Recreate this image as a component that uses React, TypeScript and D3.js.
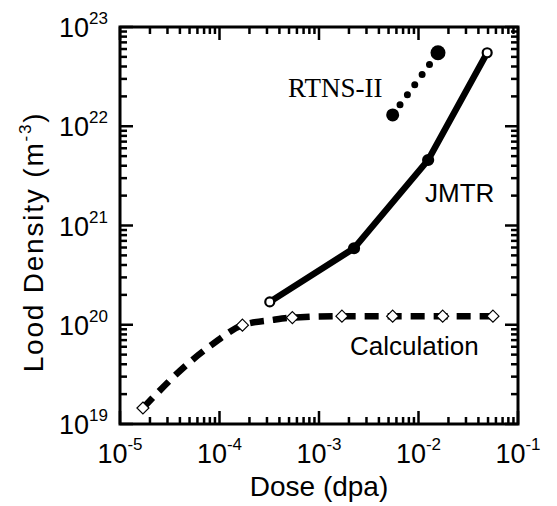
import React, { useEffect, useRef } from "react";
import * as d3 from "d3";

// calculation curve (dashed), diamonds on the half-decade points
const calcDose = [1.7e-5, 5.3e-5, 8.4e-5, 1.7e-4, 3.45e-4, 5.4e-4, 1.7e-3, 5.5e-3, 1.75e-2, 5.6e-2];
const calcDensity = [1.45e19, 4.4e19, 6.3e19, 9.9e19, 1.12e20, 1.18e20, 1.22e20, 1.22e20, 1.22e20, 1.22e20];
const calcMarked = [true, false, false, true, false, true, true, true, true, true];

const jmtrDose = [3.2e-4, 2.25e-3, 1.25e-2, 4.9e-2];
const jmtrDensity = [1.7e20, 5.9e20, 4.57e21, 5.5e22];

const rtnsDose = [5.5e-3, 1.57e-2];
const rtnsDensity = [1.3e22, 5.5e22];

const xTickExp = [-5, -4, -3, -2, -1];
const yTickExp = [19, 20, 21, 22, 23];

const App = () => {
  const svgRef = useRef<SVGSVGElement>(null);

  useEffect(() => {
    const svg = d3.select(svgRef.current);
    svg.selectAll("*").remove();

    const width = 557;
    const height = 506;
    const left = 120, right = 518, top = 27, bottom = 424;
    const sans = "'Liberation Sans', Arial, sans-serif";

    const x = d3.scaleLog().domain([1e-5, 1e-1]).range([left, right]);
    const y = d3.scaleLog().domain([1e19, 1e23]).range([bottom, top]);

    svg.attr("width", width).attr("height", height);
    svg.append("rect").attr("width", width).attr("height", height).attr("fill", "white");

    // ticks on all four sides, pointing inward
    const isMajor = (v: number) => Math.abs(Math.log10(v) - Math.round(Math.log10(v))) < 1e-6;
    const tk = svg.append("g").attr("stroke", "black").attr("stroke-width", 2.5);
    x.ticks().forEach(v => {
      const len = isMajor(v) ? 13 : 7;
      tk.append("line").attr("x1", x(v)).attr("x2", x(v)).attr("y1", bottom).attr("y2", bottom - len);
      tk.append("line").attr("x1", x(v)).attr("x2", x(v)).attr("y1", top).attr("y2", top + len);
    });
    y.ticks().forEach(v => {
      const len = isMajor(v) ? 13 : 7;
      tk.append("line").attr("y1", y(v)).attr("y2", y(v)).attr("x1", left).attr("x2", left + len);
      tk.append("line").attr("y1", y(v)).attr("y2", y(v)).attr("x1", right).attr("x2", right - len);
    });

    // frame
    svg.append("rect")
      .attr("x", left).attr("y", top)
      .attr("width", right - left).attr("height", bottom - top)
      .attr("fill", "none").attr("stroke", "black").attr("stroke-width", 3);

    // tick labels
    xTickExp.forEach(e => {
      const t = svg.append("text")
        .attr("x", x(Math.pow(10, e)))
        .attr("y", 463)
        .attr("text-anchor", "middle")
        .style("font-family", sans)
        .style("font-size", "27px");
      t.append("tspan").text("10");
      t.append("tspan").attr("dy", -13).style("font-size", "17px").text(String(e));
    });
    yTickExp.forEach(e => {
      const t = svg.append("text")
        .attr("x", 108)
        .attr("y", y(Math.pow(10, e)) + 10)
        .attr("text-anchor", "end")
        .style("font-family", sans)
        .style("font-size", "27px");
      t.append("tspan").text("10");
      t.append("tspan").attr("dy", -13).style("font-size", "17px").text(String(e));
    });

    // axis titles
    svg.append("text")
      .attr("x", (left + right) / 2)
      .attr("y", 496)
      .attr("text-anchor", "middle")
      .style("font-family", sans)
      .style("font-size", "28px")
      .text("Dose (dpa)");

    const yt = svg.append("text")
      .attr("transform", `translate(43,242) rotate(-90)`)
      .attr("text-anchor", "middle")
      .style("font-family", sans)
      .style("font-size", "28px")
      .style("letter-spacing", "1.8px");
    yt.append("tspan").text("Lood Density (m");
    yt.append("tspan").attr("dy", -12).style("font-size", "17px").text("-3");
    yt.append("tspan").attr("dy", 12).text(")");

    // calculation: thick dashed curve + open diamonds
    const calc = calcDose.map((d, i) => ({ d, v: calcDensity[i], m: calcMarked[i] }));
    const calcLine = d3.line<{ d: number; v: number }>()
      .x(p => x(p.d)).y(p => y(p.v))
      .curve(d3.curveMonotoneX);
    svg.append("path")
      .attr("d", calcLine(calc))
      .attr("fill", "none")
      .attr("stroke", "black")
      .attr("stroke-width", 6.5)
      .attr("stroke-dasharray", "14 9");
    svg.selectAll("path.diamond")
      .data(calc.filter(p => p.m))
      .enter()
      .append("path")
      .attr("class", "diamond")
      .attr("d", "M0,-6L6,0L0,6L-6,0Z")
      .attr("transform", p => `translate(${x(p.d)},${y(p.v)})`)
      .attr("fill", "white")
      .attr("stroke", "black")
      .attr("stroke-width", 1.2);

    // JMTR: thick solid line
    const jmtr = jmtrDose.map((d, i) => ({ d, v: jmtrDensity[i] }));
    svg.append("path")
      .attr("d", d3.line<{ d: number; v: number }>().x(p => x(p.d)).y(p => y(p.v))(jmtr))
      .attr("fill", "none")
      .attr("stroke", "black")
      .attr("stroke-width", 6.5)
      .attr("stroke-linejoin", "round");
    svg.selectAll("circle.jmtr")
      .data(jmtr)
      .enter()
      .append("circle")
      .attr("class", "jmtr")
      .attr("cx", p => x(p.d))
      .attr("cy", p => y(p.v))
      .attr("r", (p, i) => (i === 0 || i === jmtr.length - 1 ? 4.5 : 5))
      .attr("fill", (p, i) => (i === 0 || i === jmtr.length - 1 ? "white" : "black"))
      .attr("stroke", "black")
      .attr("stroke-width", 2.2);

    // RTNS-II: dotted line between two big dots
    const rtns = rtnsDose.map((d, i) => ({ d, v: rtnsDensity[i] }));
    svg.append("path")
      .attr("d", d3.line<{ d: number; v: number }>().x(p => x(p.d)).y(p => y(p.v))(rtns))
      .attr("fill", "none")
      .attr("stroke", "black")
      .attr("stroke-width", 7)
      .attr("stroke-linecap", "round")
      .attr("stroke-dasharray", "0 12.5");
    svg.selectAll("circle.rtns")
      .data(rtns)
      .enter()
      .append("circle")
      .attr("class", "rtns")
      .attr("cx", p => x(p.d))
      .attr("cy", p => y(p.v))
      .attr("r", (p, i) => (i === 0 ? 6.5 : 7.5))
      .attr("fill", "black");

    // series labels
    svg.append("text")
      .attr("x", 288).attr("y", 97)
      .style("font-family", "'Liberation Serif', 'Times New Roman', serif")
      .style("font-size", "27px")
      .text("RTNS-II");
    svg.append("text")
      .attr("x", 425).attr("y", 202)
      .style("font-family", sans)
      .style("font-size", "26px")
      .text("JMTR");
    svg.append("text")
      .attr("x", 350).attr("y", 355)
      .style("font-family", sans)
      .style("font-size", "26px")
      .text("Calculation");
  }, []);

  return <svg ref={svgRef} style={{ position: "absolute", left: 0, top: 0 }} />;
};

export default App;
